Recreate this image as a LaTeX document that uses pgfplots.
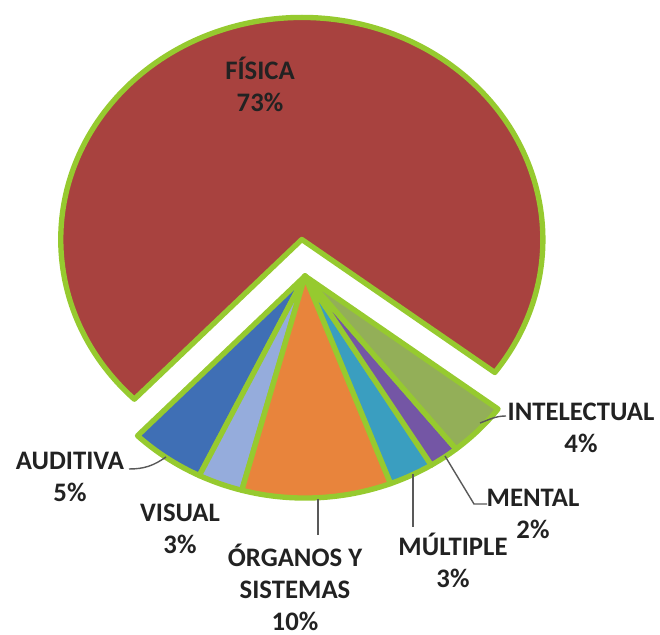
\documentclass[border=0pt]{standalone}
\usepackage{pgfplots}
\pgfplotsset{compat=1.18}
\usepackage{pgfplotstable}
\usepackage{fontspec}
\setmainfont{Carlito}

\definecolor{borde}{HTML}{96CA2F}
\definecolor{c0}{HTML}{3F6FB5}% AUDITIVA
\definecolor{c1}{HTML}{95ACDC}% VISUAL
\definecolor{c2}{HTML}{E8843C}% ORGANOS Y SISTEMAS
\definecolor{c3}{HTML}{3A9EC0}% MULTIPLE
\definecolor{c4}{HTML}{7456A5}% MENTAL
\definecolor{c5}{HTML}{93AF58}% INTELECTUAL
\definecolor{c6}{HTML}{A8423F}% FISICA
\definecolor{texto}{HTML}{222222}
\definecolor{guia}{HTML}{595959}

\tikzset{lbl/.style={font=\fontsize{19}{22.7}\selectfont\bfseries, text=texto, align=center}}

% porcentajes, en orden antihorario desde AUDITIVA
\pgfplotstableread{
pct
5
3
10
3
2
4
73
}\datos

\begin{document}
\begin{tikzpicture}
\begin{axis}[
    hide axis,
    x=0.025cm, y=0.025cm,
    xmin=0, xmax=660, ymin=-631, ymax=0,
    clip=false,
]
\addplot[draw=none, forget plot] coordinates {(0,0) (660,-631)};

\pgfmathsetmacro{\start}{226}
\pgfplotsforeachungrouped \i in {0,...,6} {
    \pgfplotstablegetelem{\i}{pct}\of\datos
    \pgfmathsetmacro{\stop}{\start+3.6*\pgfplotsretval}
    \pgfmathsetmacro{\bis}{(\start+\stop)/2}
    \ifnum\i=6 \def\ex{0.165}\else\def\ex{0}\fi
    \pgfmathsetmacro{\cx}{305+\ex*241*cos(\bis)}
    \pgfmathsetmacro{\cy}{-276+\ex*222*sin(\bis)}
    \edef\temp{\noexpand\filldraw[overlay, fill=c\i, draw=borde, line width=3.8pt, line join=round]
        (axis cs:\cx,\cy) -- ++(\start:6.025cm and 5.55cm)
        arc[start angle=\start, end angle=\stop, x radius=6.025cm, y radius=5.55cm] -- cycle;}
    \temp
    \global\let\start\stop
}

% lineas guia
\draw[overlay, guia, line width=1pt] (axis cs:129,-469) to[out=0,in=215] (axis cs:166,-457);
\draw[overlay, guia, line width=1pt] (axis cs:318,-499) -- (axis cs:318,-535);
\draw[overlay, guia, line width=1pt] (axis cs:413,-474) -- (axis cs:413,-527);
\draw[overlay, guia, line width=1pt] (axis cs:445,-456) -- (axis cs:474,-504) -- (axis cs:487,-504);
\draw[overlay, guia, line width=1pt] (axis cs:480,-423) to[out=20,in=180] (axis cs:506,-416);

% etiquetas
\node[lbl] at (axis cs:260,-84) {FÍSICA\\73\%};
\node[lbl] at (axis cs:581,-428) {INTELECTUAL\\4\%};
\node[lbl] at (axis cs:533,-514) {MENTAL\\2\%};
\node[lbl] at (axis cs:453,-560) {MÚLTIPLE\\3\%};
\node[lbl] at (axis cs:295,-587) {ÓRGANOS Y\\SISTEMAS\\10\%};
\node[lbl] at (axis cs:180,-529) {VISUAL\\3\%};
\node[lbl] at (axis cs:70,-477) {AUDITIVA\\5\%};
\end{axis}
\end{tikzpicture}
\end{document}
